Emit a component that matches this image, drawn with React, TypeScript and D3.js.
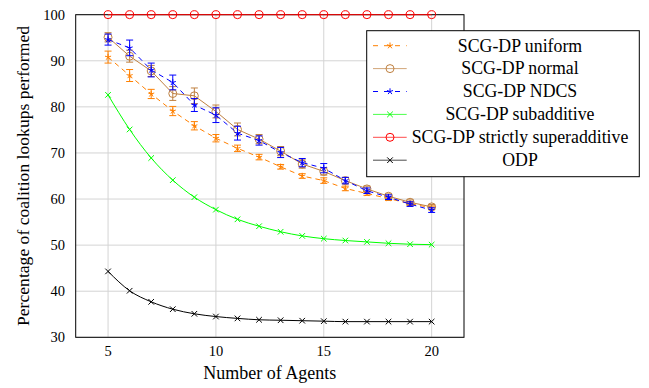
import React, { useRef, useEffect } from 'react';
import * as d3 from 'd3';

const agents = [5, 6, 7, 8, 9, 10, 11, 12, 13, 14, 15, 16, 17, 18, 19, 20];
const uniformVals = [90.8, 86.8, 82.8, 79.1, 75.9, 73.2, 71.0, 69.1, 67.0, 65.0, 64.0, 62.3, 61.2, 60.1, 59.0, 58.1];
const uniformErr = [1.3, 1.3, 1.0, 1.0, 0.9, 0.8, 0.7, 0.6, 0.5, 0.5, 0.6, 0.5, 0.4, 0.4, 0.4, 0.4];
const normalVals = [95.1, 91.0, 87.8, 82.9, 82.4, 79.0, 75.1, 73.0, 70.4, 67.6, 66.0, 64.0, 62.2, 60.6, 59.3, 58.3];
const normalErr = [1.0, 1.3, 1.2, 1.5, 1.7, 1.4, 1.4, 1.0, 1.0, 0.9, 0.8, 0.7, 0.6, 0.5, 0.5, 0.5];
const ndcsVals = [94.6, 92.8, 88.0, 85.3, 80.4, 78.2, 74.3, 72.7, 70.1, 67.9, 66.7, 64.0, 61.8, 60.4, 58.9, 57.6];
const ndcsErr = [1.2, 1.7, 1.5, 1.6, 1.4, 1.6, 1.5, 1.0, 1.1, 0.9, 1.0, 0.7, 0.6, 0.5, 0.5, 0.5];
const subVals = [82.6, 75.1, 68.9, 64.1, 60.4, 57.7, 55.6, 54.1, 52.9, 52.0, 51.4, 51.0, 50.7, 50.4, 50.2, 50.1];
const superVals = [100, 100, 100, 100, 100, 100, 100, 100, 100, 100, 100, 100, 100, 100, 100, 100];
const odpVals = [44.3, 40.1, 37.7, 36.1, 35.1, 34.5, 34.1, 33.8, 33.7, 33.6, 33.5, 33.4, 33.4, 33.4, 33.4, 33.4];

const xTicks = [5, 10, 15, 20];
const yTicks = [30, 40, 50, 60, 70, 80, 90, 100];

type Series = {
  name: string;
  values: number[];
  errors: number[] | null;
  color: string;
  dash: string | null;
  marker: 'star' | 'circle' | 'x';
  smooth: boolean;
};

const series: Series[] = [
  { name: 'SCG-DP uniform', values: uniformVals, errors: uniformErr, color: '#ff8000', dash: '5,4', marker: 'star', smooth: false },
  { name: 'SCG-DP normal', values: normalVals, errors: normalErr, color: '#bf8040', dash: null, marker: 'circle', smooth: false },
  { name: 'SCG-DP NDCS', values: ndcsVals, errors: ndcsErr, color: '#0000ff', dash: '5,4', marker: 'star', smooth: false },
  { name: 'SCG-DP subadditive', values: subVals, errors: null, color: '#00ff00', dash: null, marker: 'x', smooth: true },
  { name: 'SCG-DP strictly superadditive', values: superVals, errors: null, color: '#ff0000', dash: null, marker: 'circle', smooth: false },
  { name: 'ODP', values: odpVals, errors: null, color: '#000000', dash: null, marker: 'x', smooth: true },
];

const W = 649;
const H = 388;
const margin = { left: 75.7, right: W - 464, top: 14.7, bottom: H - 337.3 };
const serif = "'Liberation Serif', 'Times New Roman', 'DejaVu Serif', serif";

const drawMarker = (g: any, kind: string, cx: number, cy: number, color: string) => {
  if (kind === 'circle') {
    g.append('circle')
      .attr('cx', cx).attr('cy', cy).attr('r', 4)
      .attr('fill', 'none').attr('stroke', color).attr('stroke-width', 1);
  } else if (kind === 'x') {
    const r = 2.8;
    g.append('path')
      .attr('d', `M${cx - r},${cy - r}L${cx + r},${cy + r}M${cx - r},${cy + r}L${cx + r},${cy - r}`)
      .attr('stroke', color).attr('stroke-width', 1).attr('fill', 'none');
  } else {
    const r = 3.2;
    let d = '';
    for (let i = 0; i < 5; i++) {
      const a = -Math.PI / 2 + (i * 2 * Math.PI) / 5;
      d += `M${cx},${cy}L${cx + r * Math.cos(a)},${cy + r * Math.sin(a)}`;
    }
    g.append('path').attr('d', d).attr('stroke', color).attr('stroke-width', 1).attr('fill', 'none');
  }
};

const Chart = () => {
  const svgRef = useRef<SVGSVGElement>(null);

  useEffect(() => {
    const svg = d3.select(svgRef.current);
    svg.selectAll('*').remove();
    svg.attr('font-family', serif);

    const x = d3.scaleLinear().domain([3.5, 21.5]).range([margin.left, W - margin.right]);
    const y = d3.scaleLinear().domain([30, 100]).range([H - margin.bottom, margin.top]);

    // grid
    const grid = svg.append('g').attr('stroke', '#d4d4d4').attr('stroke-width', 1);
    xTicks.forEach((t) => {
      grid.append('line').attr('x1', x(t)).attr('x2', x(t)).attr('y1', y(30)).attr('y2', y(100));
    });
    yTicks.forEach((t) => {
      grid.append('line').attr('x1', x(3.5)).attr('x2', x(21.5)).attr('y1', y(t)).attr('y2', y(t));
    });

    // tick labels
    svg.append('g')
      .selectAll('text')
      .data(xTicks)
      .join('text')
        .attr('x', (d) => x(d))
        .attr('y', 356)
        .attr('text-anchor', 'middle')
        .attr('font-family', serif)
        .attr('font-size', 14.5)
        .text((d) => d);

    svg.append('g')
      .selectAll('text')
      .data(yTicks)
      .join('text')
        .attr('x', 65)
        .attr('y', (d) => y(d))
        .attr('dy', '0.34em')
        .attr('text-anchor', 'end')
        .attr('font-family', serif)
        .attr('font-size', 14.5)
        .text((d) => d);

    // axis labels
    svg.append('text')
      .attr('x', (x(3.5) + x(21.5)) / 2)
      .attr('y', 379)
      .attr('text-anchor', 'middle')
      .attr('font-family', serif)
      .attr('font-size', 18)
      .text('Number of Agents');

    svg.append('text')
      .attr('transform', `translate(28.5, ${(y(30) + y(100)) / 2}) rotate(-90)`)
      .attr('text-anchor', 'middle')
      .attr('font-family', serif)
      .attr('font-size', 17.6)
      .text('Percentage of coalition lookups performed');

    // axis box
    svg.append('rect')
      .attr('x', x(3.5)).attr('y', y(100))
      .attr('width', x(21.5) - x(3.5)).attr('height', y(30) - y(100))
      .attr('fill', 'none').attr('stroke', '#000').attr('stroke-width', 1);

    // series
    series.forEach((s) => {
      const g = svg.append('g');
      const pts: [number, number][] = agents.map((a, i) => [x(a), y(s.values[i])]);
      const line = d3.line().curve(s.smooth ? d3.curveMonotoneX : d3.curveLinear);
      g.append('path')
        .attr('d', line(pts))
        .attr('fill', 'none')
        .attr('stroke', s.color)
        .attr('stroke-width', 1)
        .attr('stroke-dasharray', s.dash);

      if (s.errors) {
        agents.forEach((a, i) => {
          const cx = x(a);
          const y1 = y(s.values[i] - s.errors![i]);
          const y2 = y(s.values[i] + s.errors![i]);
          g.append('path')
            .attr('d', `M${cx},${y1}L${cx},${y2}M${cx - 3.5},${y1}L${cx + 3.5},${y1}M${cx - 3.5},${y2}L${cx + 3.5},${y2}`)
            .attr('stroke', s.color).attr('stroke-width', 1).attr('fill', 'none');
        });
      }
      pts.forEach(([px, py]) => drawMarker(g, s.marker, px, py, s.color));
    });

    // legend
    const lx = 366.7;
    const ly = 30.7;
    const lg = svg.append('g');
    lg.append('rect')
      .attr('x', lx).attr('y', ly)
      .attr('width', 639.3 - lx).attr('height', 176.7 - ly)
      .attr('fill', '#fff').attr('stroke', '#000').attr('stroke-width', 1);
    series.forEach((s, i) => {
      const cy = 45.7 + i * 22.9;
      lg.append('line')
        .attr('x1', 373).attr('x2', 406.7).attr('y1', cy).attr('y2', cy)
        .attr('stroke', s.color).attr('stroke-width', 1)
        .attr('stroke-dasharray', s.dash ? '5,6' : null)
        .attr('opacity', s.dash ? 1 : 0.7);
      drawMarker(lg, s.marker, 390, cy, s.color);
      lg.append('text')
        .attr('x', 520).attr('y', cy)
        .attr('dy', '0.33em')
        .attr('text-anchor', 'middle')
        .attr('font-family', serif)
        .attr('font-size', 17.8)
        .text(s.name);
    });
  }, []);

  return <svg ref={svgRef} width={W} height={H} style={{ position: 'absolute', left: 0, top: 0, background: '#fff' }} />;
};

export default function App() {
  return <Chart />;
}
